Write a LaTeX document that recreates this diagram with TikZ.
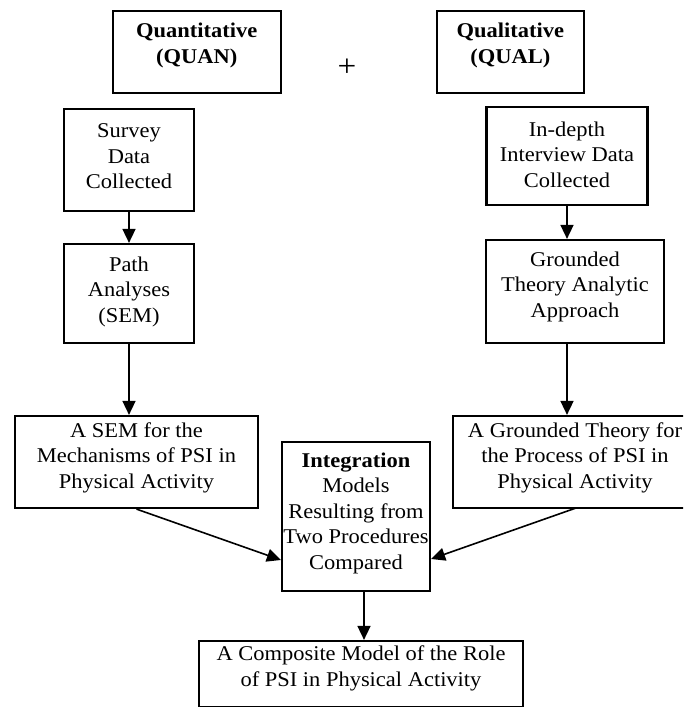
\documentclass[tikz,border=0pt]{standalone}
\usepackage{fontspec}
\setmainfont{Liberation Serif}[FakeStretch=1.07]
\usetikzlibrary{arrows.meta}

\tikzset{
  box/.style={draw, line width=2.2pt, inner sep=0pt},
  txt/.style={align=center, inner sep=0pt, font=\fontsize{21}{25.5}\selectfont},
  flow/.style={line width=1.6pt, -{Triangle[length=14pt,width=13pt]}},
}

\begin{document}
\begin{tikzpicture}[x=1pt, y=-1pt]
  \clip (0,0) rectangle (683,707);

  % top row: the two strands
  \node[box, minimum width=168pt, minimum height=82pt] (quan) at (196.7,52) {};
  \node[txt] (quant) at (196.7,45.5) {\bfseries Quantitative\\\bfseries (QUAN)};
  \node[box, minimum width=147pt, minimum height=82pt] (qual) at (510.3,52) {};
  \node[txt] (qualt) at (510.3,45.5) {\bfseries Qualitative\\\bfseries (QUAL)};
  \node[txt, font=\fontsize{31}{34}\selectfont] (plus) at (347,68) {+};

  % quantitative strand
  \node[box, minimum width=130pt, minimum height=102pt] (survey) at (129,160) {};
  \node[txt] (surveyt) at (129,156.5) {Survey\\Data\\Collected};
  \node[box, minimum width=130pt, minimum height=99pt] (path) at (129,293.5) {};
  \node[txt] (patht) at (129,291.5) {Path\\Analyses\\(SEM)};
  \node[box, minimum width=243pt, minimum height=92pt] (sem) at (136.5,462) {};
  \node[txt] (semt) at (136.5,457.5) {A SEM for the\\Mechanisms of PSI in\\Physical Activity};

  % qualitative strand
  \node[box, minimum width=161pt, minimum height=98pt] (indepth) at (567,156) {};
  \node[txt] (indeptht) at (567,154.5) {In-depth\\Interview Data\\Collected};
  \node[box, minimum width=178pt, minimum height=103pt] (grounded) at (575,291.5) {};
  \node[txt] (groundedt) at (575,286.5) {Grounded\\Theory Analytic\\Approach};
  \node[box, minimum width=244pt, minimum height=92pt] (gt) at (575,462) {};
  \node[txt] (gtt) at (575,457.5) {A Grounded Theory for\\the Process of PSI in\\Physical Activity};

  % integration and result
  \node[box, minimum width=148pt, minimum height=149pt] (integ) at (356,516.5) {};
  \node[txt] (integt) at (356,513) {\bfseries Integration\\Models\\Resulting from\\Two Procedures\\Compared};
  \node[box, minimum width=324pt, minimum height=66pt] (comp) at (361,674) {};
  \node[txt] (compt) at (361,668.5) {A Composite Model of the Role\\of PSI in Physical Activity};

  % connector end points
  \coordinate (inL) at (integ.west |- 0,560);
  \coordinate (inR) at (integ.east |- 0,559);
  \coordinate (gtout) at (576,508);
  \coordinate (intout) at (364,591);

  % connectors
  \draw[flow] (survey.south) -- (path.north);
  \draw[flow] (path.south) -- (path.south |- sem.north);
  \draw[flow] (indepth.south) -- (indepth.south |- grounded.north);
  \draw[flow] (indepth.south |- grounded.south) -- (indepth.south |- gt.north);
  \draw[flow] (sem.south) -- (inL);
  \draw[flow] (gtout) -- (inR);
  \draw[flow] (intout) -- (intout |- comp.north);
\end{tikzpicture}
\end{document}
